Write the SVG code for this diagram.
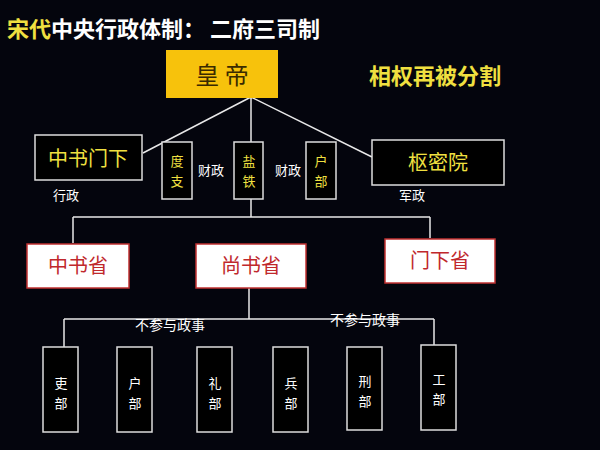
<svg xmlns="http://www.w3.org/2000/svg" width="600" height="450" viewBox="0 0 600 450">
<style>
text{font-family:"Noto Sans CJK SC","Noto Sans",sans-serif;text-anchor:middle}
.ln{stroke:#e8e8e8;stroke-width:1.5;fill:none}
.bx{fill:#000;stroke:#ddd;stroke-width:1.5}
.wb{fill:#fff;stroke:#c03030;stroke-width:1.5}
.y{fill:#f0e040}
.w{fill:#fff}
.r{fill:#c0282c}
</style>
<rect width="600" height="450" fill="#04050d"/>
<text x="7" y="37" font-size="22" font-weight="bold" style="text-anchor:start"><tspan class="y">宋代</tspan><tspan class="w">中央行政体制：  二府三司制</tspan></text>
<text x="435" y="84" font-size="22" font-weight="bold" class="y">相权再被分割</text>
<g id="connectors" class="ln">
<path d="M251 97L143 153M251 97V142M251 97L372 157"/>
<path d="M251 199V217M73 217H430M73 217V243M430 217V238"/>
<path d="M249 288V319M64 319H434M64 319V347M434 319V345"/>
</g>
<g id="huangdi"><rect x="166" y="50" width="112" height="48" fill="#f7c20c"/><text x="222" y="84" font-size="24" fill="#3a2a00">皇  帝</text></g>
<g id="zsmx"><rect class="bx" x="35" y="135" width="107" height="45"/><text x="88" y="166" font-size="20" class="y">中书门下</text></g>
<g id="duzhi"><rect class="bx" x="162" y="142" width="30" height="57"/><text x="177" y="166" font-size="13" class="y">度</text><text x="177" y="186" font-size="13" class="y">支</text></g>
<g id="yantie"><rect class="bx" x="234" y="142" width="29" height="57"/><text x="249" y="166" font-size="13" class="y">盐</text><text x="249" y="186" font-size="13" class="y">铁</text></g>
<g id="hubu1"><rect class="bx" x="306" y="142" width="30" height="57"/><text x="321" y="166" font-size="13" class="y">户</text><text x="321" y="186" font-size="13" class="y">部</text></g>
<text x="211" y="175" font-size="13" class="w">财政</text>
<text x="288" y="175" font-size="13" class="w">财政</text>
<g id="shumiyuan"><rect class="bx" x="372" y="140" width="132" height="45"/><text x="438" y="170" font-size="20" class="y">枢密院</text></g>
<text x="66" y="200" font-size="13" class="w">行政</text>
<text x="412" y="200" font-size="13" class="w">军政</text>
<g id="zsheng"><rect class="wb" x="27" y="244" width="102" height="44"/><text x="78" y="273" font-size="20" class="r">中书省</text></g>
<g id="ssheng"><rect class="wb" x="196" y="244" width="110" height="44"/><text x="251" y="273" font-size="20" class="r">尚书省</text></g>
<g id="mxsheng"><rect class="wb" x="385" y="239" width="110" height="44"/><text x="440" y="268" font-size="20" class="r">门下省</text></g>
<text x="170" y="330" font-size="14" class="w">不参与政事</text>
<text x="365" y="325" font-size="14" class="w">不参与政事</text>
<g id="libu"><rect class="bx" x="43" y="347" width="35" height="85"/><text x="61" y="388" font-size="13" class="w">吏</text><text x="61" y="408" font-size="13" class="w">部</text></g>
<g id="hubu"><rect class="bx" x="117" y="347" width="35" height="85"/><text x="135" y="388" font-size="13" class="w">户</text><text x="135" y="408" font-size="13" class="w">部</text></g>
<g id="libu2"><rect class="bx" x="197" y="347" width="35" height="85"/><text x="215" y="388" font-size="13" class="w">礼</text><text x="215" y="408" font-size="13" class="w">部</text></g>
<g id="bingbu"><rect class="bx" x="273" y="347" width="35" height="85"/><text x="291" y="388" font-size="13" class="w">兵</text><text x="291" y="408" font-size="13" class="w">部</text></g>
<g id="xingbu"><rect class="bx" x="347" y="347" width="35" height="83"/><text x="365" y="386" font-size="13" class="w">刑</text><text x="365" y="406" font-size="13" class="w">部</text></g>
<g id="gongbu"><rect class="bx" x="421" y="345" width="35" height="85"/><text x="439" y="384" font-size="13" class="w">工</text><text x="439" y="404" font-size="13" class="w">部</text></g>
</svg>
